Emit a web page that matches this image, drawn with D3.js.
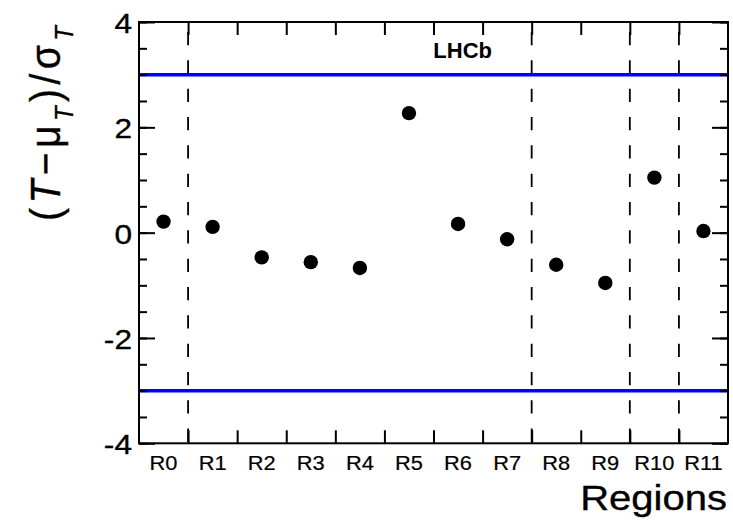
<!DOCTYPE html>
<html>
<head>
<meta charset="utf-8">
<script src="https://cdn.jsdelivr.net/npm/d3@7"></script>
<style>
  html, body { margin: 0; padding: 0; background: #fff; }
  svg { display: block; font-family: "Liberation Sans", Arial, Helvetica, sans-serif; }
  .lbl { stroke: #000; stroke-width: 0.35; }
</style>
</head>
<body>
<svg id="chart" width="733" height="522"></svg>
<script>
// ---- data ----
const categories = ["R0","R1","R2","R3","R4","R5","R6","R7","R8","R9","R10","R11"];
const pulls = [0.21, 0.11, -0.47, -0.56, -0.67, 2.27, 0.165, -0.125, -0.61, -0.955, 1.045, 0.03];
const dividerAfter = ["R0", "R7", "R9", "R10"];
const bandLimits = [3, -3];
const yMajorTicks = [-4, -2, 0, 2, 4];
const yMinorTicks = d3.range(-4, 4.01, 0.5);
const xTitle = "Regions";
const experimentLabel = "LHCb";

// ---- layout ----
const L = 139, R = 728, T = 22, B = 443.3;
const svg = d3.select("#chart");

const x = d3.scaleBand().domain(categories).range([L, R]).padding(0);
const y = d3.scaleLinear().domain([-4, 4]).range([B, T]);

// dashed dividers
const period = 28.33, dash = 13.3;
svg.append("g").selectAll("line").data(dividerAfter).join("line")
  .attr("x1", d => x(d) + x.bandwidth()).attr("x2", d => x(d) + x.bandwidth())
  .attr("y1", y(4)).attr("y2", y(-4))
  .attr("stroke", "#000").attr("stroke-width", 1.8)
  .attr("stroke-dasharray", `${dash},${period - dash}`)
  .attr("stroke-dashoffset", period - 10);

// blue band limits
svg.append("g").selectAll("line").data(bandLimits).join("line")
  .attr("x1", L).attr("x2", R)
  .attr("y1", d => y(d)).attr("y2", d => y(d))
  .attr("stroke", "#0000ff").attr("stroke-width", 3.5);

// points
svg.append("g").selectAll("circle").data(pulls).join("circle")
  .attr("cx", (d, i) => x(categories[i]) + x.bandwidth() / 2)
  .attr("cy", d => y(d))
  .attr("r", 7.2)
  .attr("fill", "#000");

// y axis ticks (left + right)
function yTicksAxis(axisFn, values, size) {
  return axisFn(y).tickValues(values).tickSize(size).tickFormat("");
}
const gL = svg.append("g").attr("transform", `translate(${L},0)`);
gL.call(yTicksAxis(d3.axisRight, yMinorTicks, 8));
gL.append("g").call(yTicksAxis(d3.axisRight, yMajorTicks, 16));
const gR = svg.append("g").attr("transform", `translate(${R},0)`);
gR.call(yTicksAxis(d3.axisLeft, yMinorTicks, 8));
gR.append("g").call(yTicksAxis(d3.axisLeft, yMajorTicks, 16));

// x ticks at bin edges (bottom + top)
const edges = categories.slice(0, -1).map(c => x(c) + x.bandwidth());
const xe = d3.scaleLinear().domain([L, R]).range([L, R]);
svg.append("g").attr("transform", `translate(0,${B})`)
  .call(d3.axisTop(xe).tickValues(edges).tickSize(13).tickFormat(""));
svg.append("g").attr("transform", `translate(0,${T})`)
  .call(d3.axisBottom(xe).tickValues(edges).tickSize(13).tickFormat(""));

svg.selectAll(".domain").remove();
svg.selectAll(".tick line").attr("stroke", "#000").attr("stroke-width", 2);

// y tick labels (slightly widened like the reference rendering)
svg.append("g").selectAll("text").data(yMajorTicks).join("text")
  .attr("class", "lbl")
  .attr("transform", d => `translate(132,${y(d) + 11}) scale(1.13,1)`)
  .attr("text-anchor", "end")
  .attr("font-size", 28)
  .text(d => d);

// x category labels
svg.append("g").selectAll("text").data(categories).join("text")
  .attr("class", "lbl")
  .attr("transform", d => `translate(${x(d) + x.bandwidth() / 2},470) scale(1.12,1)`)
  .attr("text-anchor", "middle")
  .attr("font-size", 19.5)
  .style("stroke-width", 0.2)
  .text(d => d);

// frame
svg.append("rect").attr("x", L).attr("y", T).attr("width", R - L).attr("height", B - T)
  .attr("fill", "none").attr("stroke", "#000").attr("stroke-width", 2);

// x title
svg.append("text").attr("class", "lbl")
  .attr("transform", "translate(727,510) scale(1.16,1)")
  .attr("text-anchor", "end")
  .attr("font-size", 34.5).text(xTitle);

// LHCb label
svg.append("text").attr("x", 462.7).attr("y", 58.3).attr("text-anchor", "middle")
  .attr("font-size", 22).attr("font-weight", "bold").text(experimentLabel);

// y title
const yt = svg.append("text").attr("class", "lbl")
  .attr("transform", "translate(60,26) scale(1.08,1) rotate(-90)")
  .attr("text-anchor", "end")
  .attr("font-size", 39)
  .attr("textLength", 195).attr("lengthAdjust", "spacing");
yt.append("tspan").text("(");
yt.append("tspan").attr("font-style", "italic").text("T");
yt.append("tspan").text("\u2212\u03bc");
yt.append("tspan").attr("font-style", "italic").attr("font-size", 24).attr("dy", 12).text("T");
yt.append("tspan").attr("dy", -12).text(")/\u03c3");
yt.append("tspan").attr("font-style", "italic").attr("font-size", 24).attr("dy", 12).text("T");
</script>
</body>
</html>
